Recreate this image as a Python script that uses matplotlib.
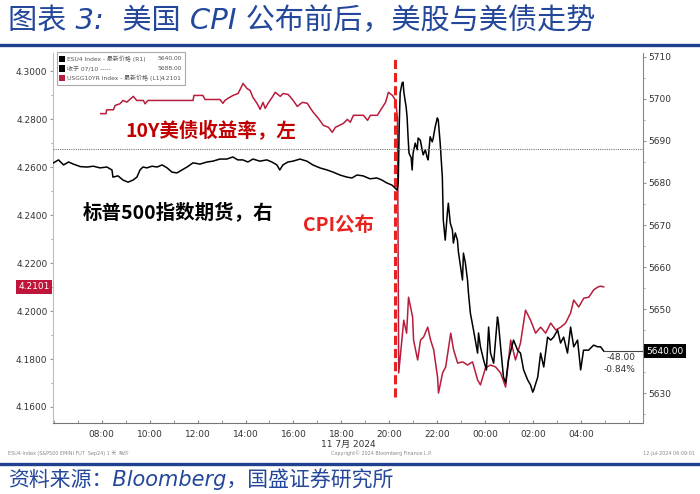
import matplotlib
matplotlib.use("Agg")
import matplotlib.pyplot as plt
from matplotlib.lines import Line2D
from matplotlib.ticker import FixedLocator, MultipleLocator, FuncFormatter
from matplotlib.patches import Rectangle

plt.rcParams['font.family'] = ['DejaVu Sans', 'Noto Sans CJK SC']

# S&P 500 futures (right axis), time in hours (24 = 00:00 next day)
spx_t = [5.99, 6.20, 6.41, 6.62, 6.82, 7.11, 7.40, 7.65, 7.93, 8.22, 8.43, 8.47, 8.68, 8.89, 9.10,
         9.31, 9.47, 9.60, 9.72, 9.89, 10.10, 10.31, 10.52, 10.73, 10.93, 11.14, 11.35, 11.56, 11.81,
         12.10, 12.39, 12.64, 12.93, 13.22, 13.47, 13.68, 13.89, 14.10, 14.31, 14.60, 14.89, 15.10,
         15.31, 15.43, 15.56, 15.77, 15.98, 16.27, 16.56, 16.81, 17.10, 17.40, 17.65, 17.94, 18.23,
         18.44, 18.65, 18.90, 19.19, 19.48, 19.69, 19.90, 20.11, 20.24, 20.32, 20.37, 20.41, 20.45,
         20.53, 20.57, 20.61, 20.70, 20.74, 20.78, 20.82, 20.91, 20.95, 20.99, 21.08, 21.16, 21.20,
         21.29, 21.37, 21.41, 21.50, 21.58, 21.62, 21.70, 21.79, 21.83, 21.91, 22.00, 22.04, 22.12,
         22.21, 22.25, 22.33, 22.42, 22.46, 22.54, 22.63, 22.67, 22.75, 22.84, 22.88, 22.96, 23.05,
         23.09, 23.17, 23.26, 23.30, 23.38, 23.51, 23.68, 23.72, 23.80, 23.93, 24.05, 24.14, 24.22,
         24.35, 24.51, 24.55, 24.64, 24.76, 24.85, 24.97, 25.18, 25.35, 25.47, 25.60, 25.77, 25.89,
         25.98, 26.02, 26.19, 26.31, 26.44, 26.60, 26.73, 26.85, 27.02, 27.14, 27.27, 27.43, 27.56,
         27.69, 27.85, 27.98, 28.10, 28.31, 28.52, 28.69, 28.81, 28.94]
spx_v = [5684.8, 5685.5, 5684.3, 5685.0, 5684.5, 5683.9, 5683.8, 5684.0, 5683.6, 5683.8, 5683.1,
         5681.4, 5681.7, 5680.7, 5680.2, 5680.7, 5681.4, 5683.1, 5683.8, 5683.6, 5684.0, 5683.8,
         5684.3, 5683.6, 5682.6, 5682.4, 5683.1, 5683.8, 5684.8, 5684.5, 5685.0, 5685.2, 5685.7,
         5685.7, 5686.2, 5685.5, 5685.5, 5685.0, 5685.7, 5685.2, 5685.5, 5685.0, 5684.3, 5683.1,
         5684.3, 5685.0, 5685.2, 5685.7, 5685.2, 5684.3, 5683.6, 5683.1, 5682.6, 5681.9, 5681.4,
         5681.2, 5681.9, 5681.7, 5681.0, 5681.2, 5680.7, 5680.0, 5679.5, 5678.8, 5678.3, 5680.0,
         5693.3, 5701.4, 5703.8, 5704.0, 5701.4, 5698.1, 5695.7, 5691.0, 5687.1, 5686.0, 5683.1,
         5687.1, 5689.5, 5687.9, 5690.7, 5690.2, 5687.9, 5686.7, 5687.9, 5686.0, 5685.5, 5691.0,
         5689.8, 5690.7, 5693.3, 5695.5, 5695.0, 5689.5, 5681.4, 5671.2, 5666.4, 5672.9, 5675.2,
         5670.5, 5668.8, 5665.7, 5668.1, 5666.4, 5663.6, 5660.5, 5656.9, 5663.3, 5661.0, 5656.9,
         5653.8, 5649.0, 5645.0, 5639.5, 5644.3, 5641.0, 5637.9, 5635.5, 5645.7, 5639.5, 5637.1,
         5648.1, 5646.7, 5641.0, 5633.8, 5632.4, 5637.9, 5642.6, 5640.2, 5639.5, 5635.5, 5633.1,
         5631.9, 5630.2, 5630.7, 5633.8, 5639.5, 5636.2, 5643.3, 5642.6, 5643.3, 5645.0, 5641.9,
         5643.3, 5639.5, 5645.7, 5641.0, 5642.6, 5635.5, 5640.2, 5640.2, 5641.4, 5641.0, 5641.0,
         5640.0]

# US 10Y yield (left axis)
ust_t = [7.96, 8.18, 8.21, 8.49, 8.56, 8.76, 8.89, 9.05, 9.32, 9.46, 9.74, 9.81, 9.93, 11.81, 11.85,
         12.22, 12.31, 12.93, 13.06, 13.14, 13.27, 13.48, 13.69, 13.90, 14.06, 14.19, 14.31, 14.48,
         14.61, 14.73, 14.82, 14.94, 15.11, 15.24, 15.45, 15.57, 15.78, 15.99, 16.16, 16.37, 16.58,
         16.71, 16.83, 17.04, 17.25, 17.46, 17.62, 17.75, 18.08, 18.25, 18.37, 18.50, 18.92, 19.09,
         19.21, 19.50, 19.63, 19.84, 19.96, 20.13, 20.26, 20.34, 20.39, 20.51, 20.60, 20.72, 20.80,
         20.97, 21.01, 21.18, 21.30, 21.43, 21.60, 21.72, 21.85, 22.01, 22.05, 22.22, 22.35, 22.56,
         22.68, 22.85, 23.06, 23.26, 23.47, 23.68, 23.80, 24.01, 24.22, 24.43, 24.64, 24.85, 25.06,
         25.26, 25.47, 25.68, 25.89, 26.10, 26.31, 26.52, 26.73, 26.94, 27.15, 27.35, 27.56, 27.69,
         27.90, 28.11, 28.32, 28.52, 28.69, 28.81, 28.94]
ust_v = [4.2824, 4.2824, 4.2840, 4.2840, 4.2858, 4.2865, 4.2879, 4.2872, 4.2896, 4.2879, 4.2879,
         4.2865, 4.2879, 4.2879, 4.2900, 4.2900, 4.2883, 4.2883, 4.2867, 4.2879, 4.2888, 4.2900,
         4.2908, 4.2950, 4.2929, 4.2921, 4.2892, 4.2867, 4.2842, 4.2871, 4.2846, 4.2867, 4.2892,
         4.2913, 4.2896, 4.2908, 4.2904, 4.2879, 4.2854, 4.2871, 4.2867, 4.2846, 4.2829, 4.2804,
         4.2775, 4.2767, 4.2746, 4.2767, 4.2783, 4.2800, 4.2788, 4.2817, 4.2817, 4.2796, 4.2817,
         4.2817, 4.2838, 4.2871, 4.2913, 4.2900, 4.2879, 4.2804, 4.1742, 4.1867, 4.1962, 4.1908,
         4.2058, 4.1975, 4.1879, 4.1796, 4.1879, 4.1892, 4.1933, 4.1879, 4.1838, 4.1725, 4.1658,
         4.1742, 4.1767, 4.1908, 4.1838, 4.1783, 4.1788, 4.1775, 4.1788, 4.1713, 4.1692, 4.1763,
         4.1775, 4.1767, 4.1742, 4.1683, 4.1879, 4.1796, 4.1867, 4.2004, 4.1962, 4.1908, 4.1933,
         4.1908, 4.1950, 4.1921, 4.1933, 4.1950, 4.1992, 4.2046, 4.2017, 4.2054, 4.2058, 4.2088,
         4.2100, 4.2104, 4.2101]

prev_close = 5688.0
cpi_time = 20.22
hour_ticks = [8, 10, 12, 14, 16, 18, 20, 22, 24, 26, 28]
hour_labels = ['08:00', '10:00', '12:00', '14:00', '16:00', '18:00', '20:00', '22:00', '00:00', '02:00', '04:00']

blue = '#23479a'
red = '#b81c3c'
tick_c = '#333333'

fig = plt.figure(figsize=(7, 4.94), dpi=100)
ax = fig.add_axes([53/700, 1-423/494, 590/700, 370/494])
ax2 = ax.twinx()

ax.plot(ust_t, ust_v, color=red, lw=1.1)
ax2.plot(spx_t, spx_v, color='black', lw=1.1)
ax2.axhline(prev_close, color='#777777', lw=0.8, ls=(0, (1, 1)))
ax2.plot([spx_t[-1], 30.6], [spx_v[-1], spx_v[-1]], color='#444444', lw=0.8)
ax.axvline(cpi_time, ymin=0.07, ymax=0.99, color='#e8231f', lw=2.2, ls=(0, (3, 1.3)))

ax.set_xlim(5.97, 30.58)
ax.set_ylim(4.1533, 4.3077)
ax2.set_ylim(5622.86, 5710.95)

ax.xaxis.set_major_locator(FixedLocator(hour_ticks))
ax.set_xticklabels(hour_labels)
ax.xaxis.set_minor_locator(MultipleLocator(1))
ax.tick_params(axis='x', which='both', direction='in', length=2, color='#888888',
               labelsize=6.5, labelcolor=tick_c, pad=5)
ax.set_xlabel('11 7月 2024', fontsize=6.5, color=tick_c, labelpad=1)

ax.yaxis.set_major_locator(MultipleLocator(0.02))
ax.yaxis.set_minor_locator(MultipleLocator(0.01))
ax.yaxis.set_major_formatter(FuncFormatter(lambda v, p: f'{v:.4f}'))
ax.tick_params(axis='y', which='both', length=2.5, color='#999999', labelsize=6.5,
               labelcolor=tick_c, pad=1.5)
ax.tick_params(axis='y', which='minor', length=1.5)

# the last-price tag sits on top of the 5640 label, so that label is left blank
last_spx = spx_v[-1]
ax2.yaxis.set_major_locator(MultipleLocator(10))
ax2.yaxis.set_minor_locator(MultipleLocator(5))
ax2.yaxis.set_major_formatter(FuncFormatter(
    lambda v, p: '' if abs(v - last_spx) < 4 else f'{v:.0f}'))
ax2.tick_params(axis='y', which='both', length=2.5, color='#999999', labelsize=6.5,
                labelcolor=tick_c, pad=1.5)
ax2.tick_params(axis='y', which='minor', length=1.5)

for a in (ax, ax2):
    a.spines['top'].set_visible(False)
ax.spines['right'].set_visible(False)
ax2.spines['left'].set_visible(False)
ax2.spines['bottom'].set_visible(False)
ax.spines['left'].set_color('#eaa7b7')
ax.spines['bottom'].set_color('#777777')
ax2.spines['right'].set_color('#888888')
for s in ('left', 'bottom'):
    ax.spines[s].set_linewidth(0.8)
ax2.spines['right'].set_linewidth(0.8)

# last value tags
ax.text(-0.006, ust_v[-1], f'{ust_v[-1]:.4f}', transform=ax.get_yaxis_transform(),
        ha='right', va='center', fontsize=6.5, color='white',
        bbox=dict(boxstyle='square,pad=0.25', fc='#c0153a', ec='none'))
ax2.text(1.006, last_spx, f'{last_spx:.2f}', transform=ax2.get_yaxis_transform(),
         ha='left', va='center', fontsize=6.5, color='white',
         bbox=dict(boxstyle='square,pad=0.25', fc='black', ec='none'))
chg = last_spx - prev_close
ax2.annotate(f'{chg:.2f}', xy=(0.988, last_spx), xycoords=('axes fraction', 'data'),
             xytext=(0, -4.5), textcoords='offset points', ha='right', va='center',
             fontsize=6.5, color='#333333')
ax2.annotate(f'{chg / prev_close * 100:.2f}%', xy=(0.988, last_spx),
             xycoords=('axes fraction', 'data'), xytext=(0, -13.5), textcoords='offset points',
             ha='right', va='center', fontsize=6.5, color='#333333')

# legend box
ax.add_patch(Rectangle((0.007, 0.914), 0.217, 0.089, transform=ax.transAxes, fc='white',
                       ec='#aaaaaa', lw=0.8, zorder=5, clip_on=False))
leg_rows = [('ESU4 Index - 最新价格 (R1)', f'{last_spx:.2f}', 'black'),
            ('收于 07/10 -----', f'{prev_close:.2f}', 'black'),
            ('USGG10YR Index - 最新价格 (L1)', f'{ust_v[-1]:.4f}', red)]
for i, (lab, val, c) in enumerate(leg_rows):
    yy = 0.984 - i * 0.026
    ax.add_patch(Rectangle((0.011, yy - 0.009), 0.009, 0.018, transform=ax.transAxes,
                           fc=c, ec='none', zorder=6, clip_on=False))
    ax.text(0.023, yy, lab, transform=ax.transAxes, fontsize=4.3, color='#555555',
            va='center', zorder=6)
    ax.text(0.219, yy, val, transform=ax.transAxes, fontsize=4.3, color='#555555',
            va='center', ha='right', zorder=6)

cjk_bold = dict(family=['Noto Sans CJK SC'], fontweight='bold', fontsize=14)
ax.text(0.122, 0.788, '10Y美债收益率，左', transform=ax.transAxes, color='#c00000',
        va='center', **cjk_bold)
ax.text(0.051, 0.568, '标普500指数期货，右', transform=ax.transAxes, color='black',
        va='center', **cjk_bold)
ax.text(0.424, 0.535, 'CPI公布', transform=ax.transAxes, color='#e8231f',
        va='center', **cjk_bold)

# page furniture
fig.text(0.012, 1 - 21/494, '图表 3:  美国 CPI 公布前后，美股与美债走势', fontsize=21,
         color=blue, style='italic', va='center')
fig.add_artist(Line2D([0, 1], [1 - 45/494] * 2, color='#1f3f8f', lw=2.4))
fig.add_artist(Line2D([0, 1], [1 - 464/494] * 2, color='#1f3f8f', lw=2.4))
fig.text(0.012, 1 - 479/494, '资料来源：Bloomberg，国盛证券研究所', fontsize=15,
         color=blue, style='italic', va='center')
fig.text(0.012, 1 - 453/494, 'ESU4 Index (S&P500 EMINI FUT  Sep24) 1 天  跳价', fontsize=3.5,
         color='#888888', va='center')
fig.text(0.545, 1 - 453/494, 'Copyright© 2024 Bloomberg Finance L.P.', fontsize=3.5,
         color='#888888', va='center', ha='center')
fig.text(0.993, 1 - 453/494, '12-Jul-2024 06:09:01', fontsize=3.5,
         color='#888888', va='center', ha='right')

fig.savefig('out.png', dpi=100)
